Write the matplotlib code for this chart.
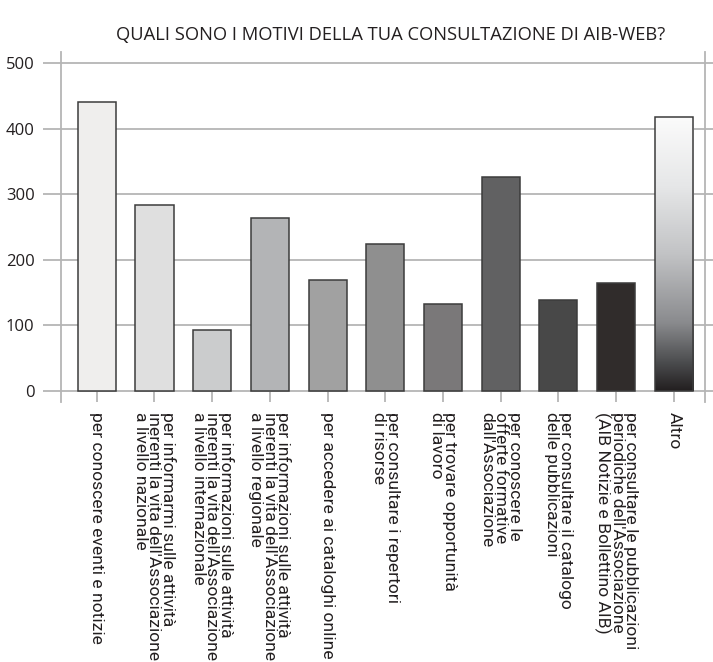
import matplotlib
matplotlib.use("Agg")
import matplotlib.pyplot as plt
import numpy as np
from matplotlib.colors import LinearSegmentedColormap

plt.rcParams['font.family'] = ['Open Sans', 'DejaVu Sans']

# dati
categorie = [
    "per conoscere eventi e notizie",
    "per informarmi sulle attività\ninerenti la vita dell'Associazione\na livello nazionale",
    "per informazioni sulle attività\ninerenti la vita dell'Associazione\na livello internazionale",
    "per informazioni sulle attività\ninerenti la vita dell'Associazione\na livello regionale",
    "per accedere ai cataloghi online",
    "per consultare i repertori\ndi risorse",
    "per trovare opportunità\ndi lavoro",
    "per conoscere le\nofferte formative\ndall'Associazione",
    "per consultare il catalogo\ndelle pubblicazioni",
    "per consultare le pubblicazioni\nperiodiche dell'Associazione\n(AIB Notizie e Bollettino AIB)",
    "Altro",
]
valori = [440, 284, 93, 263, 169, 224, 132, 326, 138, 165, 418]
colori = ["#efeeed", "#dfdfdf", "#cbcccd", "#b3b4b6", "#a1a1a1", "#8f8f8f",
          "#7a7879", "#616162", "#484848", "#302c2b", None]
yticks = [0, 100, 200, 300, 400, 500]

W, H = 713, 662
fig = plt.figure(figsize=(W / 100, H / 100), dpi=100)
ax = fig.add_axes([61 / W, 1 - 402 / H, (705 - 61) / W, (402 - 52) / H])

x = np.arange(len(valori))
larg = 0.66
griglia = "#b5b5b5"

ax.set_axisbelow(True)
ax.yaxis.grid(True, color=griglia, lw=1.3)
for i, (v, c) in enumerate(zip(valori, colori)):
    if c is None:
        # barra "Altro" con sfumatura dal bianco al nero
        cmap = LinearSegmentedColormap.from_list(
            "sf", [(0, "#fbfbfb"), (0.25, "#e6e7e8"), (0.5, "#c2c3c5"),
                   (0.75, "#8a8b8e"), (0.9, "#4a4b4d"), (1, "#231f20")])
        b = ax.bar(i, v, larg, color="none", edgecolor="#3c3c3c", lw=1.1, zorder=3)[0]
        grad = np.linspace(0, 1, 256).reshape(-1, 1)
        im = ax.imshow(grad, cmap=cmap, aspect="auto", zorder=2,
                       extent=(i - larg / 2, i + larg / 2, 0, v), origin="upper")
        im.set_clip_path(b)
    else:
        ax.bar(i, v, larg, color=c, edgecolor="#3c3c3c", lw=1.1, zorder=3)

ax.set_xlim(-0.62, 10.54)
ax.set_ylim(-17, 517)
ax.set_yticks(yticks)
ax.set_xticks(x)
ax.set_xticklabels(categorie, rotation=270, fontsize=12.6, linespacing=0.88,
                   color="#231f20", multialignment="left",
                   family=["Roboto", "DejaVu Sans"])
ax.tick_params(axis="x", direction="in", length=11, width=1.3, color=griglia, pad=7.5)
ax.tick_params(axis="y", direction="out", length=13, width=1.3, color=griglia,
               labelsize=12, labelcolor="#231f20", pad=6, right=True)
for s in ["top", "bottom"]:
    ax.spines[s].set_visible(False)
for s in ["left", "right"]:
    ax.spines[s].set_color(griglia)
    ax.spines[s].set_linewidth(1.3)

fig.text(391 / W, 1 - 35 / H, "QUALI SONO I MOTIVI DELLA TUA CONSULTAZIONE DI AIB-WEB?",
         ha="center", va="center", fontsize=13.2, color="#231f20")

fig.savefig("out.png", dpi=100)
